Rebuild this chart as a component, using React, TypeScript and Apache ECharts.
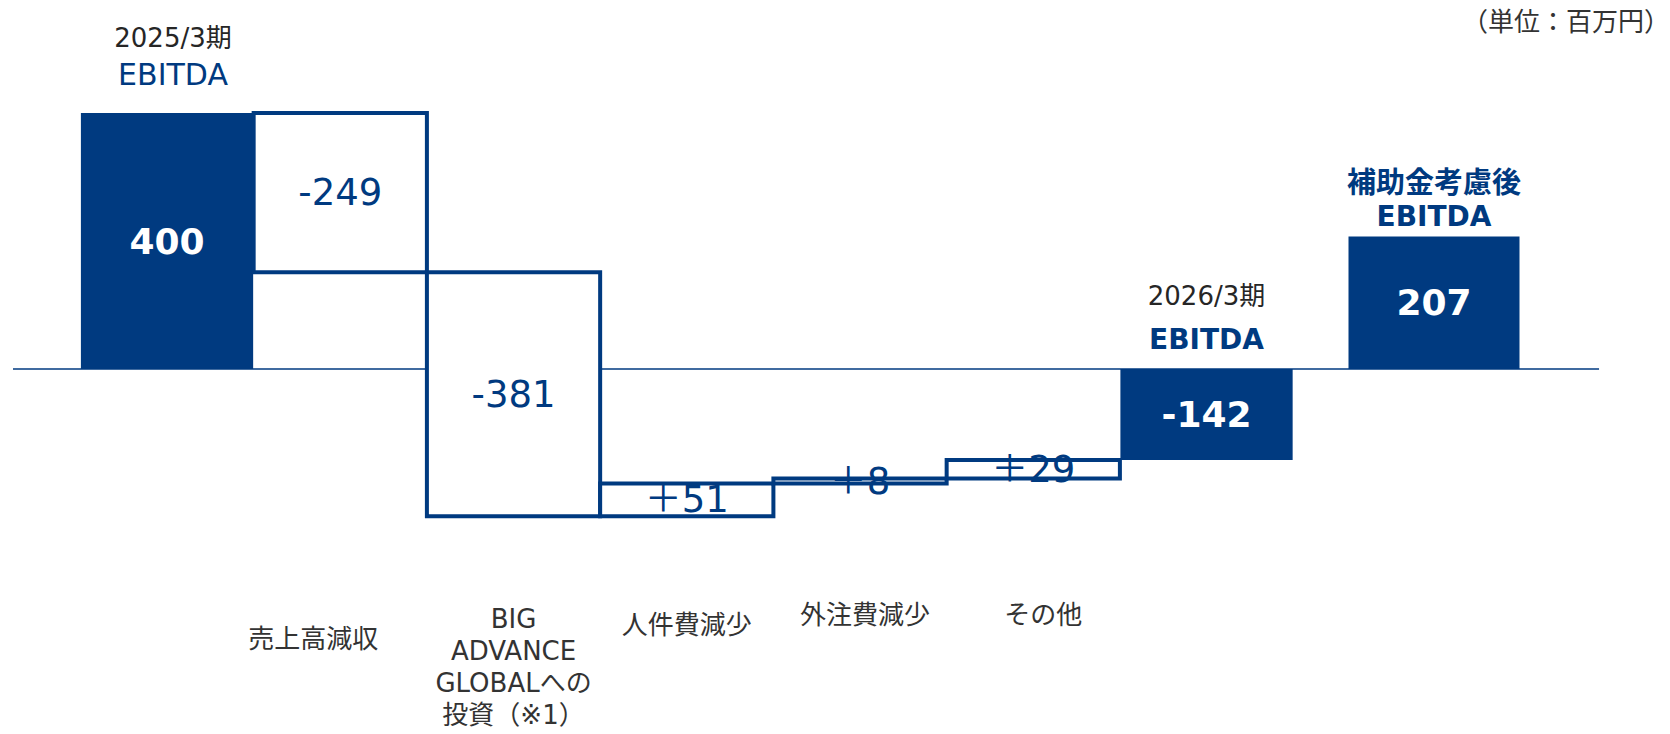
import React, { useEffect, useRef } from "react";
import * as echarts from "echarts";

// ---- data ----
const categories = [
  "2025/3期 EBITDA",
  "売上高減収",
  "BIG ADVANCE GLOBALへの投資（※1）",
  "人件費減少",
  "外注費減少",
  "その他",
  "2026/3期 EBITDA",
  "補助金考慮後 EBITDA",
];
const axisLabels = ["", "売上高減収", "BIG\nADVANCE\nGLOBALへの\n投資（※1）", "人件費減少", "外注費減少", "その他", "", ""];
const values = [400, -249, -381, 51, 8, 29, -142, 207];
const kinds = ["total", "delta", "delta", "delta", "delta", "delta", "total", "total"];
const valueLabels = ["400", "-249", "-381", "＋51", "＋8", "＋29", "-142", "207"];
const headers: (string[] | null)[] = [
  ["2025/3期", "EBITDA"],
  null,
  null,
  null,
  null,
  null,
  ["2026/3期", "EBITDA"],
  ["補助金考慮後", "EBITDA"],
];
const unitLabel = "（単位：百万円）";
// the last (subsidy-adjusted) bar sits in its own panel
const MAIN_COUNT = 7;

// ---- styling ----
const BLUE = "#003A80";
const DARK = "#333333";
const FONT = "'DejaVu Sans', 'Noto Sans CJK JP', sans-serif";

function buildWaterfall() {
  let running = 0;
  return values.map((v, i) => {
    let s: number, e: number;
    if (kinds[i] === "total") {
      s = 0;
      e = v;
      running = v;
    } else {
      s = running;
      e = running + v;
      running = e;
    }
    const xIdx = i < MAIN_COUNT ? i : i - MAIN_COUNT;
    return [xIdx, s, e, i];
  });
}

const headerStyles: Record<number, { keys: string[]; gap: number }> = {
  0: { keys: ["p", "e"], gap: 20 },
  6: { keys: ["p2", "eb"], gap: 7 },
  7: { keys: ["hb", "eb2"], gap: 4 },
};
const headerRich = {
  p: { fontSize: 26, fill: "#262626", lineHeight: 37, fontFamily: FONT },
  e: { fontSize: 30, fill: BLUE, lineHeight: 37, fontFamily: FONT },
  p2: { fontSize: 26, fill: "#262626", lineHeight: 40, fontFamily: FONT },
  eb: { fontSize: 28, fill: BLUE, fontWeight: "bold", lineHeight: 46, fontFamily: FONT },
  hb: { fontSize: 29, fill: BLUE, fontWeight: "bold", lineHeight: 33, fontFamily: FONT },
  eb2: { fontSize: 28, fill: BLUE, fontWeight: "bold", lineHeight: 33, fontFamily: FONT },
};

const labelStyleKeys: Record<number, string> = { 1: "c1", 2: "c2", 3: "c3", 4: "c4", 5: "c5" };
const axisRich: any = {
  sp: { fontSize: 4, lineHeight: 4 },
  c1: { lineHeight: 79, padding: [0, 54, 0, 0] },
  c2: { lineHeight: 32 },
  c3: { lineHeight: 51 },
  c4: { lineHeight: 32, padding: [0, 0, 0, 10] },
  c5: { lineHeight: 32, padding: [0, 0, 0, 20] },
};
Object.keys(axisRich).forEach((k) => {
  axisRich[k] = { fontSize: 26, color: DARK, fontFamily: FONT, ...axisRich[k] };
});

function renderWaterfall(params: any, api: any) {
  const xIdx = api.value(0);
  const s = api.value(1);
  const e = api.value(2);
  const i = api.value(3);
  const p0 = api.coord([xIdx, s]);
  const p1 = api.coord([xIdx, e]);
  const band = api.size([1, 0])[0];
  const cx = p0[0];
  const top = Math.min(p0[1], p1[1]);
  const h = Math.abs(p1[1] - p0[1]);
  const isTotal = kinds[i] === "total";
  const w = isTotal ? band - 1 : band;
  const children: any[] = [
    {
      type: "rect",
      shape: { x: cx - w / 2, y: top, width: w, height: h },
      style: isTotal ? { fill: BLUE } : { fill: "#ffffff", stroke: BLUE, lineWidth: 4 },
    },
    {
      type: "text",
      x: cx,
      y: top + h / 2,
      style: {
        text: valueLabels[i],
        fill: isTotal ? "#ffffff" : BLUE,
        fontSize: isTotal ? 36 : 37,
        fontWeight: isTotal ? "bold" : "normal",
        fontFamily: FONT,
        align: "center",
        verticalAlign: "middle",
      },
    },
  ];
  const hd = headers[i];
  const hs = headerStyles[i];
  if (hd && hs) {
    children.push({
      type: "text",
      x: cx + (i === 0 ? 6 : 0),
      y: top - hs.gap,
      style: {
        text: hd.map((t, k) => `{${hs.keys[k]}|${t}}`).join("\n"),
        rich: headerRich,
        align: "center",
        verticalAlign: "bottom",
        fontFamily: FONT,
      },
    });
  }
  return { type: "group", children };
}

export default function App() {
  const ref = useRef<HTMLDivElement>(null);
  useEffect(() => {
    if (!ref.current) return;
    const chart = echarts.init(ref.current, undefined, { renderer: "svg" });
    const data = buildWaterfall();
    const mainData = data.slice(0, MAIN_COUNT);
    const sideData = data.slice(MAIN_COUNT);

    const gridCommon = { top: 49, bottom: 134.6, outerBoundsMode: "none" };
    const yCommon = { type: "value", min: -360, max: 500, show: false };

    chart.setOption({
      animation: false,
      title: {
        text: unitLabel,
        right: 0,
        top: 9,
        padding: 0,
        textStyle: { fontSize: 26, fontWeight: "normal", color: DARK, fontFamily: FONT },
      },
      grid: [
        { ...gridCommon, left: 80.4, width: 1212.75 },
        { ...gridCommon, left: 1348, width: 172 },
      ],
      xAxis: [
        {
          type: "category",
          gridIndex: 0,
          data: categories.slice(0, MAIN_COUNT),
          axisLine: { show: false, onZero: false },
          axisTick: { show: false },
          splitLine: { show: false },
          axisLabel: {
            interval: 0,
            margin: 0,
            verticalAlign: "top",
            formatter: (_v: string, idx: number) => {
              const txt = axisLabels[idx];
              if (!txt) return "";
              const key = labelStyleKeys[idx];
              const lines = txt.split("\n").map((l) => `{${key}|${l}}`);
              return (idx === 2 ? "{sp| }\n" : "") + lines.join("\n");
            },
            rich: axisRich,
          },
        },
        {
          type: "category",
          gridIndex: 1,
          data: categories.slice(MAIN_COUNT),
          axisLine: { show: false, onZero: false },
          axisTick: { show: false },
          splitLine: { show: false },
          axisLabel: { show: false },
        },
      ],
      yAxis: [
        { ...yCommon, gridIndex: 0 },
        { ...yCommon, gridIndex: 1 },
      ],
      series: [
        {
          type: "custom",
          silent: true,
          clip: false,
          xAxisIndex: 0,
          yAxisIndex: 0,
          data: [[0, 0]],
          encode: { x: 0, y: 1 },
          renderItem: (params: any, api: any) => {
            const y = api.coord([0, 0])[1];
            const cs = params.coordSys;
            return {
              type: "line",
              shape: { x1: cs.x - 67.4, y1: y, x2: cs.x + cs.width + 305.9, y2: y },
              style: { stroke: BLUE, lineWidth: 1.5 },
            };
          },
        },
        {
          type: "custom",
          clip: false,
          xAxisIndex: 0,
          yAxisIndex: 0,
          data: mainData,
          encode: { x: 0, y: [1, 2] },
          renderItem: renderWaterfall,
        },
        {
          type: "custom",
          clip: false,
          xAxisIndex: 1,
          yAxisIndex: 1,
          data: sideData,
          encode: { x: 0, y: [1, 2] },
          renderItem: renderWaterfall,
        },
      ],
    });
    return () => chart.dispose();
  }, []);
  return (
    <div
      ref={ref}
      style={{ position: "fixed", left: 0, top: 0, width: 1670, height: 734, background: "#fff" }}
    />
  );
}
